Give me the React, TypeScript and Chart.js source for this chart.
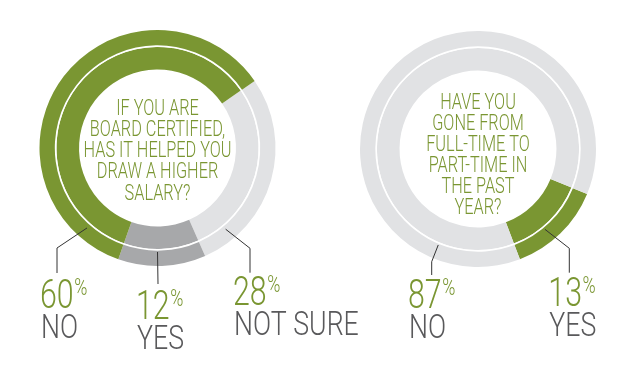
import React, { useEffect, useRef } from "react";
import { Chart, registerables } from "chart.js";

Chart.register(...registerables);

// ---------- data ----------
const leftCategories = ["NO", "YES", "NOT SURE"];
const leftValues = [60, 12, 28];
const leftQuestion = ["IF YOU ARE", "BOARD CERTIFIED,", "HAS IT HELPED YOU", "DRAW A HIGHER", "SALARY?"];

const rightCategories = ["NO", "YES"];
const rightValues = [87, 13];
const rightQuestion = ["HAVE YOU", "GONE FROM", "FULL-TIME TO", "PART-TIME IN", "THE PAST", "YEAR?"];

// ---------- styles ----------
const GREEN = "#7a9632";
const DARK_GRAY = "#a7a8aa";
const LIGHT_GRAY = "#e1e2e4";
const TEXT_GRAY = "#59595b";
const LINE = "#333333";
const FONT = "Roboto, 'Liberation Sans', sans-serif";
const SX = 0.74;
const SX_WORD = 0.81;

const leftColors = [GREEN, DARK_GRAY, LIGHT_GRAY];
const rightColors = [LIGHT_GRAY, GREEN];

type Leader = { angle: number; r: number; elbow: [number, number] | null; end: [number, number]; text: [number, number] };

const leftLeaders: Leader[] = [
  { angle: 221.4, r: 106.6, elbow: [-100.5, 100], end: [-100.5, 125], text: [-17, 35] },
  { angle: 180, r: 104, elbow: null, end: [0.5, 136], text: [-22, 35] },
  { angle: 140, r: 106, elbow: [92.5, 100.3], end: [92.5, 124.7], text: [-17, 32.3] },
];
const rightLeaders: Leader[] = [
  { angle: 202.5, r: 103.9, elbow: [-46.3, 112.7], end: [-46.3, 126], text: [-23.7, 33.3] },
  { angle: 140.2, r: 104.6, elbow: [91.3, 99.3], end: [91.3, 123.7], text: [-21, 33.3] },
];

function drawScaled(ctx: CanvasRenderingContext2D, text: string, x: number, y: number, font: string, color: string, align: "left" | "center", sx: number = SX) {
  ctx.save();
  ctx.font = font;
  ctx.fillStyle = color;
  ctx.textBaseline = "alphabetic";
  const w = ctx.measureText(text).width * sx;
  const left = align === "center" ? x - w / 2 : x;
  ctx.translate(left, y);
  ctx.scale(sx, 1);
  ctx.textAlign = "left";
  ctx.fillText(text, 0, 0);
  ctx.restore();
  return w;
}

function makePlugin(categories: string[], values: number[], question: string[], leaders: Leader[], textOffset: number) {
  return {
    id: "annot",
    afterDraw(chart: any) {
      const ctx: CanvasRenderingContext2D = chart.ctx;
      const arc = chart.getDatasetMeta(0).data[0];
      const cx = arc.x;
      const cy = arc.y;
      const lh = 21.1;
      const capH = 15.7;
      const n = question.length;
      question.forEach((line, i) => {
        const y = cy + textOffset + (i - (n - 1) / 2) * lh + capH / 2;
        drawScaled(ctx, line, cx, y, `300 22px ${FONT}`, GREEN, "center");
      });
      categories.forEach((cat, i) => {
        const L = leaders[i];
        const a = (L.angle * Math.PI) / 180;
        const sx = cx + Math.sin(a) * L.r;
        const sy = cy - Math.cos(a) * L.r;
        ctx.save();
        ctx.strokeStyle = LINE;
        ctx.lineWidth = 1;
        ctx.beginPath();
        ctx.moveTo(sx, sy);
        if (L.elbow) ctx.lineTo(cx + L.elbow[0], cy + L.elbow[1]);
        const ex = cx + L.end[0];
        const ey = cy + L.end[1];
        ctx.lineTo(ex, ey);
        ctx.stroke();
        ctx.restore();
        const tx = ex + L.text[0];
        const ty = ey + L.text[1];
        const w = drawScaled(ctx, String(values[i]), tx, ty, `300 41px ${FONT}`, GREEN, "left");
        drawScaled(ctx, "%", tx + w + 0.5, ty - 13, `300 24px ${FONT}`, GREEN, "left");
        drawScaled(ctx, cat, tx + 1, ty + 30, `300 33px ${FONT}`, TEXT_GRAY, "left", SX_WORD);
      });
    },
  };
}

function Donut(props: {
  categories: string[];
  values: number[];
  colors: string[];
  question: string[];
  leaders: Leader[];
  rotation: number;
  padding: { left: number; right: number; top: number; bottom: number };
  textOffset: number;
}) {
  const ref = useRef<HTMLCanvasElement | null>(null);
  useEffect(() => {
    if (!ref.current) return;
    const data = [...props.values].reverse();
    const colors = [...props.colors].reverse();
    const labels = [...props.categories].reverse();
    const chart = new Chart(ref.current, {
      type: "doughnut",
      data: {
        labels,
        datasets: [
          { data, backgroundColor: colors, borderWidth: 0, weight: 15.3 },
          { data: [1], backgroundColor: ["#ffffff"], borderWidth: 0, weight: 1.6 },
          { data, backgroundColor: colors, borderWidth: 0, weight: 22.6 },
        ],
      },
      options: {
        responsive: false,
        animation: false,
        events: [],
        rotation: props.rotation,
        cutout: "66.5%",
        layout: { padding: props.padding },
        plugins: { legend: { display: false }, tooltip: { enabled: false }, title: { display: false } },
      },
      plugins: [makePlugin(props.categories, props.values, props.question, props.leaders, props.textOffset)],
    } as any);
    return () => chart.destroy();
  }, []);
  return (
    <canvas
      ref={ref}
      width={640}
      height={380}
      style={{ position: "absolute", left: 0, top: 0, width: 640, height: 380 }}
    />
  );
}

export default function App() {
  return (
    <div style={{ position: "fixed", left: 0, top: 0, width: 640, height: 380, background: "#fff", overflow: "hidden" }}>
      <Donut
        categories={leftCategories}
        values={leftValues}
        colors={leftColors}
        question={leftQuestion}
        leaders={leftLeaders}
        rotation={55.4}
        padding={{ left: 39.5, right: 364.5, top: 30, bottom: 114 }}
        textOffset={1.5}
      />
      <Donut
        categories={rightCategories}
        values={rightValues}
        colors={rightColors}
        question={rightQuestion}
        leaders={rightLeaders}
        rotation={112.4}
        padding={{ left: 360, right: 44, top: 31, bottom: 113 }}
        textOffset={4.4}
      />
    </div>
  );
}
